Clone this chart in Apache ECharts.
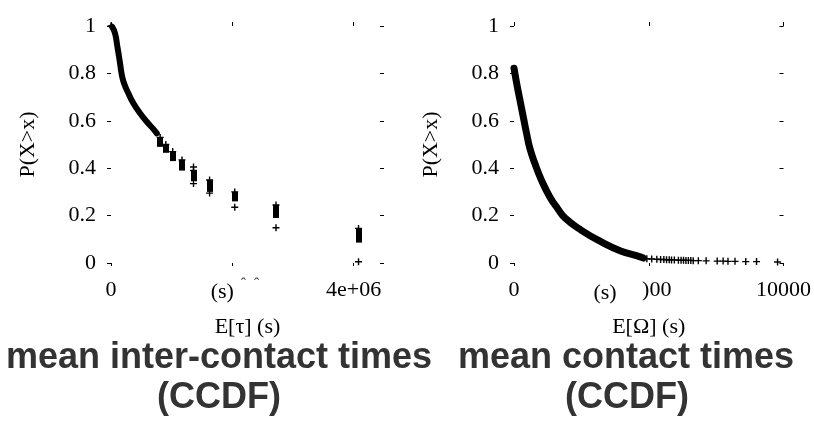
<!DOCTYPE html>
<html>
<head>
<meta charset="utf-8">
<script src="https://cdn.jsdelivr.net/npm/echarts@6/dist/echarts.min.js"></script>
<style>
  html, body { margin: 0; padding: 0; background: #fff; }
  #chart { width: 814px; height: 423px; }
</style>
</head>
<body>
<div id="chart"></div>
<script>
// E[tau] panel: dense part of the CCDF
const tauCurve = [
  [0.017e6, 0.997], [0.066e6, 0.969], [0.105e6, 0.913], [0.149e6, 0.843],
  [0.176e6, 0.797], [0.215e6, 0.758], [0.286e6, 0.716], [0.369e6, 0.674],
  [0.479e6, 0.632], [0.59e6, 0.596], [0.689e6, 0.568], [0.755e6, 0.547]
];
// stacked clusters of points (drawn as short vertical bars)
const tauBarX = [0.81e6, 0.904e6, 1.017e6, 1.17e6, 1.36e6, 1.625e6, 2.04e6, 2.72e6, 4.08e6];
const tauBarTop = [0.53, 0.50, 0.47, 0.435, 0.39, 0.35, 0.30, 0.245, 0.146];
const tauBarBottom = [0.49, 0.465, 0.43, 0.39, 0.345, 0.30, 0.26, 0.19, 0.086];
// isolated markers
const tauPoints = [
  [0, 1.0], [1.36e6, 0.405], [1.36e6, 0.335], [1.625e6, 0.295],
  [2.04e6, 0.235], [2.72e6, 0.149], [4.08e6, 0.005]
];
const tauTicks = [0, 2e6, 4e6];
const tauTickLabels = ['0', '(s)', '4e+06'];

// E[Omega] panel
const omegaCurve = [
  [0, 0.822], [99, 0.758], [220, 0.688], [343, 0.617], [466, 0.547],
  [588, 0.484], [772, 0.421], [1017, 0.35], [1324, 0.28], [1630, 0.228],
  [1900, 0.189], [2488, 0.139], [3224, 0.09], [3958, 0.051], [4570, 0.03],
  [4800, 0.021]
];
const omegaTail = [
  [4930, 0.018], [5110, 0.017], [5300, 0.016], [5440, 0.015], [5560, 0.015],
  [5660, 0.014], [5760, 0.014], [5845, 0.013], [5950, 0.013], [6100, 0.012],
  [6200, 0.012], [6290, 0.012], [6380, 0.011], [6470, 0.011], [6560, 0.011],
  [6650, 0.010], [6840, 0.010], [7130, 0.009], [7540, 0.008], [7760, 0.008],
  [7940, 0.007], [8200, 0.007], [8600, 0.006], [9000, 0.006], [9780, 0.004]
];
const omegaTicks = [0, 5000, 10000];
const omegaTickLabels = ['0', ')00', '10000'];

const yTicks = [0, 0.2, 0.4, 0.6, 0.8, 1];
const yTickLabels = ['0', '0.2', '0.4', '0.6', '0.8', '1'];

const serif = 'Liberation Serif';
const plus = 'path://M4,0H6V4H10V6H6V10H4V6H0V4H4Z';

function xAx(grid, max, ticks, labels, pos, rich) {
  const top = pos === 'top';
  return {
    gridIndex: grid, type: 'value', position: pos, min: 0, max: max,
    axisLine: { show: false, onZero: false }, splitLine: { show: false },
    axisTick: { show: true, inside: false, length: top ? 4 : 3, customValues: ticks,
      lineStyle: { color: '#000', width: 1 } },
    axisLabel: {
      customValues: ticks, margin: 16, color: '#000', fontFamily: serif, fontSize: 22,
      formatter: (v) => {
        if (top) return '';
        const s = labels[ticks.indexOf(v)];
        return rich && s === labels[1] ? '{m|' + s + '}' : s;
      },
      rich: rich || {}
    }
  };
}

function yAx(grid, pos, name) {
  const left = pos === 'left';
  return {
    gridIndex: grid, type: 'value', position: pos, min: 0, max: 1,
    axisLine: { show: false, onZero: false }, splitLine: { show: false },
    axisTick: { show: true, inside: !left, length: 4, customValues: yTicks,
      lineStyle: { color: '#000', width: 1 } },
    axisLabel: {
      customValues: yTicks, margin: 15, color: '#000', fontFamily: serif, fontSize: 22,
      formatter: (v) => left ? yTickLabels[yTicks.indexOf(v)] : ''
    },
    name: left ? name : '', nameLocation: 'middle', nameGap: 72,
    nameTextStyle: { color: '#000', fontFamily: serif, fontSize: 22 }
  };
}

const chart = echarts.init(document.getElementById('chart'), null, { renderer: 'canvas' });

const titleFont = 'bold 36px "Liberation Sans"';

chart.setOption({
  animation: false,
  backgroundColor: '#fff',
  grid: [
    { left: 111, top: 26, width: 273, height: 237 },
    { left: 514, top: 26, width: 272, height: 237 }
  ],
  xAxis: [
    Object.assign(xAx(0, 4.5e6, tauTicks, tauTickLabels, 'bottom',
      { m: { fontFamily: serif, fontSize: 22, color: '#000', padding: [2, 20, 0, 0] } }),
      { name: 'E[τ] (s)', nameLocation: 'middle', nameGap: 53,
        nameTextStyle: { color: '#000', fontFamily: serif, fontSize: 22 } }),
    xAx(0, 4.5e6, tauTicks, tauTickLabels, 'top'),
    Object.assign(xAx(1, 10000, omegaTicks, omegaTickLabels, 'bottom',
      { m: { fontFamily: serif, fontSize: 22, color: '#000', padding: [0, 0, 0, 16] } }),
      { name: 'E[Ω] (s)', nameLocation: 'middle', nameGap: 53,
        nameTextStyle: { color: '#000', fontFamily: serif, fontSize: 22 } }),
    xAx(1, 10000, omegaTicks, omegaTickLabels, 'top')
  ],
  yAxis: [
    yAx(0, 'left', 'P(X>x)'),
    yAx(0, 'right'),
    yAx(1, 'left', 'P(X>x)'),
    yAx(1, 'right')
  ],
  series: [
    {
      type: 'line', xAxisIndex: 0, yAxisIndex: 0, data: tauCurve, symbol: 'none',
      smooth: true, clip: false, lineStyle: { color: '#000', width: 6, cap: 'round' }
    },
    {
      type: 'lines', coordinateSystem: 'cartesian2d', xAxisIndex: 0, yAxisIndex: 0,
      data: tauBarX.map((x, i) => ({ coords: [[x, tauBarTop[i]], [x, tauBarBottom[i]]] })),
      lineStyle: { color: '#000', width: 6, opacity: 1, curveness: 0 }
    },
    {
      type: 'scatter', xAxisIndex: 0, yAxisIndex: 0, symbol: plus, symbolSize: 7, clip: false,
      data: tauPoints.concat(tauBarX.map((x, i) => [x, tauBarTop[i]])),
      itemStyle: { color: '#000', opacity: 1 }
    },
    {
      type: 'line', xAxisIndex: 2, yAxisIndex: 2, data: omegaCurve, symbol: 'none',
      smooth: true, clip: false, lineStyle: { color: '#000', width: 7, cap: 'round' }
    },
    {
      type: 'scatter', xAxisIndex: 2, yAxisIndex: 2, symbol: plus, symbolSize: 7, clip: false,
      data: omegaTail, itemStyle: { color: '#000', opacity: 1 }
    }
  ],
  graphic: [
    { type: 'text', x: 605, y: 293,
      style: { text: '(s)', font: '22px "Liberation Serif"', fill: '#000', align: 'center', verticalAlign: 'middle' } },
    { type: 'text', x: 250, y: 285,
      style: { text: 'ˆ  ˆ', font: '16px "Liberation Serif"', fill: '#444', align: 'center', verticalAlign: 'middle' } },
    { type: 'text', x: 219, y: 358,
      style: { text: 'mean inter-contact times', font: titleFont, fill: '#333', align: 'center', verticalAlign: 'middle' } },
    { type: 'text', x: 219, y: 398,
      style: { text: '(CCDF)', font: titleFont, fill: '#333', align: 'center', verticalAlign: 'middle' } },
    { type: 'text', x: 626, y: 358,
      style: { text: 'mean contact times', font: titleFont, fill: '#333', align: 'center', verticalAlign: 'middle' } },
    { type: 'text', x: 627, y: 398,
      style: { text: '(CCDF)', font: titleFont, fill: '#333', align: 'center', verticalAlign: 'middle' } }
  ]
});
</script>
</body>
</html>
